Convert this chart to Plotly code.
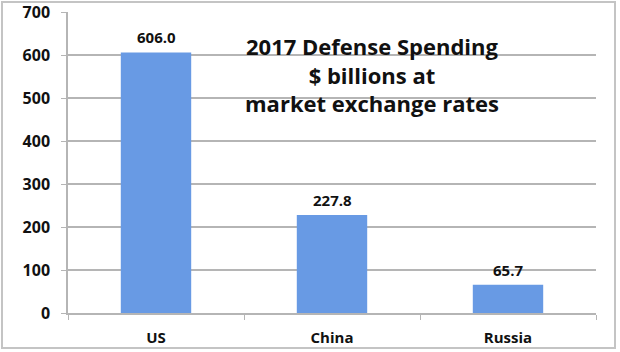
import plotly.graph_objects as go

categories = ["US", "China", "Russia"]
values = [606.0, 227.8, 65.7]
y_ticks = [0, 100, 200, 300, 400, 500, 600, 700]
title_lines = ["2017 Defense Spending", "$ billions at", "market exchange rates"]

FONT = "Open Sans"

fig = go.Figure()
fig.add_trace(go.Bar(
    x=categories, y=values,
    marker=dict(color="#689ae4", line=dict(width=0)),
    width=0.4, hoverinfo="x+y",
))
for c, v in zip(categories, values):
    fig.add_annotation(x=c, y=v, text=f"{v:.1f}", showarrow=False,
                       yanchor="middle", yshift=15,
                       font=dict(family=FONT, size=15, color="#111111", weight="bold"))

fig.add_annotation(
    x=0.576, xref="paper", y=551, yref="y", yshift=2,
    text="<br>".join(title_lines), showarrow=False,
    font=dict(family=FONT, size=22, color="#111111", weight="bold"),
    align="center", xanchor="center", yanchor="middle",
)

# outer frame
fig.add_shape(type="rect", xref="paper", yref="paper",
              x0=(2-68)/528, x1=(615-68)/528, y0=(313-348)/301, y1=(313-2)/301,
              line=dict(color="#c4c4c4", width=2), layer="below")

fig.update_layout(
    width=620, height=352,
    margin=dict(l=68, r=24, t=12, b=39, autoexpand=False),
    paper_bgcolor="white", plot_bgcolor="white",
    showlegend=False, bargap=0.6,
)
fig.update_yaxes(range=[0, 700], tickvals=y_ticks, showgrid=True,
                 gridcolor="#b5b5b5", gridwidth=1.5, showline=True,
                 linecolor="#b5b5b5", linewidth=1.5, ticks="outside",
                 ticklen=5, tickcolor="#b5b5b5", zeroline=False,
                 ticklabelstandoff=8, automargin=False,
                 tickfont=dict(family=FONT, size=16, color="#111111", weight="bold"))
fig.update_xaxes(showline=True, linecolor="#b5b5b5", linewidth=1.5,
                 ticks="outside", tickson="boundaries", ticklen=5,
                 tickcolor="#b5b5b5", ticklabelstandoff=10, automargin=False,
                 tickfont=dict(family=FONT, size=15, color="#111111", weight="bold"))

fig.write_html("out.html")
